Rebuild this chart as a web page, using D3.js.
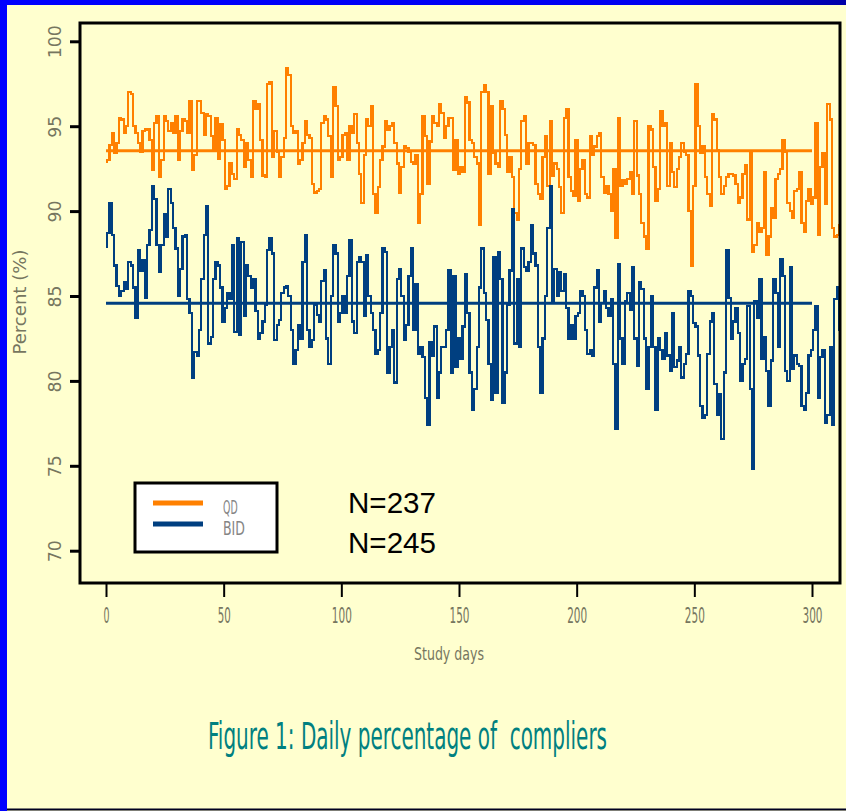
<!DOCTYPE html>
<html><head><meta charset="utf-8">
<script src="https://cdn.jsdelivr.net/npm/d3@7/dist/d3.min.js"></script>
<style>html,body{margin:0;padding:0;background:#FFFFCF;} svg{display:block} text{white-space:pre}</style>
</head><body><svg id="chart" width="846" height="811"></svg>
<script>
// ---------- data ----------
const yTicks = [70, 75, 80, 85, 90, 95, 100];
const xTicks = [0, 50, 100, 150, 200, 250, 300];
const seriesNames = ["QD", "BID"];
const nLabels = ["N=237", "N=245"];
const qdMean = 93.55;
const bidMean = 84.57;
const meanDays = [0, 300];
const titleText = "Figure 1: Daily percentage of  compliers";
const xLabel = "Study days";
const yLabel = "Percent (%)";

// daily percentage of compliers, QD group (day 0 .. 312)
const qdValues = [
92.9,93.0,93.9,94.6,93.4,94.0,95.5,95.4,94.6,95.0,
97.0,96.9,95.0,94.6,94.0,93.5,94.7,94.8,94.8,94.2,
92.4,95.2,95.6,92.0,93.0,95.6,95.3,94.7,95.2,94.6,
95.6,93.0,94.7,95.4,95.3,94.6,96.5,92.4,93.3,96.5,
96.5,95.8,94.5,95.7,95.6,94.4,93.6,95.5,93.1,95.1,
94.2,91.3,91.5,92.8,92.2,91.9,94.8,94.5,94.2,92.6,
94.0,93.0,92.0,96.5,96.0,96.3,94.2,92.1,92.0,97.5,
97.6,93.2,94.7,93.5,92.0,93.2,94.3,98.4,98.0,95.0,
94.6,94.7,92.8,93.0,94.0,95.3,94.5,94.3,91.6,91.1,
91.2,91.3,95.2,95.6,95.4,94.4,92.0,97.3,96.2,93.0,
93.2,94.5,94.6,93.0,
95.0,94.6,95.7,94.0,92.2,90.5,93.3,95.4,95.0,96.2,
91.0,89.9,91.4,93.0,93.8,95.3,94.8,95.0,95.2,94.0,
92.8,91.1,92.6,93.8,93.7,93.5,92.9,92.8,93.3,89.3,
91.0,95.6,94.4,91.6,94.1,95.6,95.2,95.0,96.3,95.8,
94.3,95.0,95.5,95.5,92.4,94.2,92.2,92.6,92.3,96.7,
96.4,94.2,94.0,93.2,92.8,89.2,97.0,97.4,97.0,92.2,
96.2,93.4,92.8,92.6,96.5,96.0,94.5,92.3,93.2,92.0,
89.9,89.5,92.5,95.3,95.6,92.8,94.0,94.0,93.9,91.6,
91.0,90.7,93.2,94.4,91.5,95.3,92.1,92.8,92.5,91.4,
89.9,95.5,96.0,92.0,91.2,90.9,94.2,90.6,92.5,93.0,
91.0,90.8,
94.4,93.3,93.8,94.4,94.6,92.0,91.1,91.5,91.0,90.0,
92.5,88.4,95.5,91.5,91.8,91.6,91.9,92.3,91.0,95.3,
92.1,91.0,89.3,88.5,87.8,95.0,94.8,92.6,90.6,91.3,
95.9,95.0,95.2,91.5,94.0,92.3,91.4,92.5,93.2,94.0,
93.5,93.3,90.0,86.8,91.5,97.5,95.0,93.4,93.8,92.0,
91.0,90.3,95.7,95.4,93.6,92.0,91.0,91.5,92.0,92.2,
92.2,92.1,91.6,90.5,90.8,92.2,92.7,89.5,93.5,87.6,
88.0,89.3,88.8,89.0,92.3,87.4,88.5,90.2,89.6,91.9,
92.2,92.5,94.2,93.5,90.5,90.0,89.6,91.2,91.3,92.3,
89.3,88.8,90.6,91.3,90.4,90.8,95.2,88.6,92.6,93.4,
90.4,96.3,95.4,89.0,88.5,88.6,89.2
];

// daily percentage of compliers, BID group (day 0 .. 312)
const bidValues = [
87.9,88.7,90.5,88.6,86.8,85.6,85.0,85.3,85.8,85.4,
87.0,86.8,85.5,83.7,87.7,86.5,87.1,84.9,88.0,88.9,
91.5,90.7,88.0,86.4,88.0,89.8,88.5,91.3,90.5,89.0,
87.8,85.0,86.6,88.5,88.6,84.8,84.0,80.2,81.7,81.5,
83.0,86.0,88.6,90.3,82.2,82.6,86.0,87.0,86.8,85.5,
83.5,84.3,85.2,84.8,88.0,82.9,88.4,82.7,88.2,83.8,
86.8,86.2,85.5,86.0,84.1,82.5,82.8,83.5,84.5,87.7,
88.4,87.5,82.4,83.3,83.6,85.2,85.5,85.6,85.0,83.0,
81.0,81.8,83.3,82.5,87.0,88.6,83.0,82.0,82.4,84.5,
83.9,83.5,85.9,86.5,82.5,81.0,85.0,88.0,87.5,83.5,
84.0,85.0,84.0,86.2,
88.3,83.5,82.8,87.0,87.3,87.0,83.8,87.4,85.0,84.0,
83.0,81.6,81.8,84.0,87.8,87.6,80.5,82.0,83.0,79.9,
86.0,86.6,85.0,82.4,83.3,86.2,87.8,83.0,85.7,81.6,
82.0,81.4,79.0,77.4,82.3,81.5,83.2,79.0,80.5,82.0,
82.0,83.0,86.5,80.5,86.2,80.8,82.5,81.3,83.2,86.3,
84.0,80.5,78.3,79.5,82.0,85.5,87.8,85.2,83.6,81.0,
78.9,87.3,79.3,87.6,86.0,78.7,80.5,84.5,86.5,90.1,
82.2,86.0,82.0,87.8,86.7,86.5,87.0,89.2,87.5,86.8,
82.0,79.3,82.5,85.0,89.0,91.5,84.7,86.6,85.0,86.4,
85.3,86.3,84.3,82.5,83.3,82.5,83.8,84.0,85.3,85.0,
83.0,81.6,
81.8,81.5,85.5,86.5,83.5,84.6,85.3,84.3,83.8,84.8,
81.0,77.2,86.9,82.5,81.0,84.7,85.2,84.2,86.7,82.5,
80.9,85.8,85.4,82.5,79.5,82.0,85.0,82.0,78.3,82.5,
81.8,81.3,82.8,81.5,80.6,84.0,80.8,81.2,82.0,80.2,
81.0,81.6,85.3,85.0,83.4,83.2,81.5,78.5,77.8,78.0,
81.6,83.5,84.0,79.8,78.0,79.2,76.6,80.5,87.7,84.9,
82.5,83.5,84.3,82.8,80.0,81.0,81.3,84.4,79.5,74.8,
84.7,83.7,86.0,81.3,82.6,80.6,78.5,81.2,86.0,85.2,
82.0,87.2,86.2,80.6,80.0,86.7,80.7,81.5,81.0,80.9,
78.5,78.3,79.3,81.5,81.8,83.0,84.4,79.0,81.4,81.8,
77.5,78.0,82.0,77.4,84.8,85.5,83.0
];

const colors = {QD: "#FF8000", BID: "#003F80"};

// ---------- drawing ----------
const W = 846, H = 811;
const svg = d3.select("#chart");
const box = {l: 80, r: 840, t: 23, b: 583};
const x = d3.scaleLinear().domain([0, 300]).range([106, 812]);
const y = d3.scaleLinear().domain([70, 100]).range([550.7, 41.3]);
const labelColor = "#76765f";
const narrow = "'Liberation Sans Narrow','DejaVu Sans Condensed','Liberation Sans',Arial,sans-serif";

// background & frame
svg.append("rect").attr("width", W).attr("height", H).attr("fill", "#FFFFCF");
const defs = svg.append("defs");
const grad = defs.append("linearGradient").attr("id", "topgrad");
grad.append("stop").attr("offset", "0%").attr("stop-color", "#0000FF");
grad.append("stop").attr("offset", "80%").attr("stop-color", "#0000F0");
grad.append("stop").attr("offset", "100%").attr("stop-color", "#0000A8");
svg.append("rect").attr("x", 0).attr("y", 0).attr("width", W).attr("height", 5).attr("fill", "url(#topgrad)");
svg.append("rect").attr("x", 0).attr("y", 0).attr("width", 7).attr("height", H).attr("fill", "#0000FF");
svg.append("line").attr("x1", 7).attr("x2", W).attr("y1", 809.5).attr("y2", 809.5)
  .attr("stroke", "#000020").attr("stroke-width", 2);

defs.append("clipPath").attr("id", "plotclip").append("rect")
  .attr("x", box.l + 1).attr("y", box.t + 1).attr("width", box.r - box.l - 2).attr("height", box.b - box.t - 2);

// series (daily step trace)
const line = d3.line().curve(d3.curveStep).x((d, i) => x(i)).y(d => y(d));
const plot = svg.append("g").attr("clip-path", "url(#plotclip)");
plot.append("path").datum(qdValues).attr("d", line).attr("fill", "none")
  .attr("stroke", colors.QD).attr("stroke-width", 2.2).attr("shape-rendering", "crispEdges");
plot.append("path").datum(bidValues).attr("d", line).attr("fill", "none")
  .attr("stroke", colors.BID).attr("stroke-width", 2.2).attr("shape-rendering", "crispEdges");

// mean lines
[[qdMean, colors.QD], [bidMean, colors.BID]].forEach(([m, c]) => {
  plot.append("line").attr("x1", x(meanDays[0])).attr("x2", x(meanDays[1]))
    .attr("y1", y(m)).attr("y2", y(m)).attr("stroke", c).attr("stroke-width", 3);
});

// box
svg.append("rect").attr("x", box.l).attr("y", box.t).attr("width", box.r - box.l).attr("height", box.b - box.t)
  .attr("fill", "none").attr("stroke", "#000").attr("stroke-width", 3);

// y axis
const yAxis = svg.append("g").attr("transform", `translate(${box.l},0)`)
  .call(d3.axisLeft(y).tickValues(yTicks).tickSize(10).tickFormat(d3.format("d")));
yAxis.select(".domain").remove();
yAxis.selectAll(".tick line").attr("stroke", "#000").attr("stroke-width", 3);
yAxis.selectAll(".tick text")
  .attr("x", 0).attr("y", -25).attr("dy", "0.36em")
  .attr("transform", "rotate(-90)")
  .attr("text-anchor", "middle")
  .attr("fill", labelColor)
  .style("font-family", narrow).style("font-size", "17px")
  .attr("textLength", d => String(d).length * 11).attr("lengthAdjust", "spacingAndGlyphs");

// x axis
const xAxis = svg.append("g").attr("transform", `translate(0,${box.b})`)
  .call(d3.axisBottom(x).tickValues(xTicks).tickSize(14).tickFormat(d3.format("d")));
xAxis.select(".domain").remove();
xAxis.selectAll(".tick line").attr("stroke", "#000").attr("stroke-width", 2);
xAxis.selectAll(".tick text")
  .attr("y", 40).attr("dy", 0)
  .attr("fill", labelColor)
  .style("font-family", narrow).style("font-size", "22px")
  .attr("textLength", d => String(d).length * 7 - 1).attr("lengthAdjust", "spacingAndGlyphs");

// axis titles
svg.append("text").attr("x", 449).attr("y", 660).attr("text-anchor", "middle")
  .attr("fill", labelColor).style("font-family", narrow).style("font-size", "17px")
  .attr("textLength", 70).attr("lengthAdjust", "spacingAndGlyphs").text(xLabel);
svg.append("text").attr("transform", "translate(20,302) rotate(-90)").attr("text-anchor", "middle")
  .attr("dy", "0.36em").attr("fill", labelColor).style("font-family", narrow).style("font-size", "17px")
  .attr("textLength", 105).attr("lengthAdjust", "spacingAndGlyphs").text(yLabel);

// legend
const lg = svg.append("g");
lg.append("rect").attr("x", 135).attr("y", 483).attr("width", 142).attr("height", 69)
  .attr("fill", "#fff").attr("stroke", "#000").attr("stroke-width", 3);
seriesNames.forEach((s, i) => {
  const yy = 503 + i * 21;
  lg.append("line").attr("x1", 153).attr("x2", 203).attr("y1", yy).attr("y2", yy)
    .attr("stroke", colors[s]).attr("stroke-width", 5);
  lg.append("text").attr("x", 223).attr("y", yy + 11).attr("fill", "#858585")
    .style("font-family", narrow).style("font-size", "19px")
    .attr("textLength", s.length * 7.3).attr("lengthAdjust", "spacingAndGlyphs").text(s);
});

// N labels
nLabels.forEach((t, i) => {
  svg.append("text").attr("x", 348).attr("y", 513 + i * 40).attr("fill", "#000")
    .style("font-family", "'Liberation Sans',Arial,sans-serif").style("font-size", "29px")
    .attr("textLength", 88).attr("lengthAdjust", "spacingAndGlyphs").text(t);
});

// figure caption (tall, narrow lettering)
svg.append("text").attr("transform", "translate(208,749) scale(1,1.6)").attr("fill", "#008080")
  .attr("xml:space", "preserve")
  .style("font-family", narrow).style("font-size", "23px")
  .attr("textLength", 399).attr("lengthAdjust", "spacingAndGlyphs").text(titleText);
</script>
</body></html>
